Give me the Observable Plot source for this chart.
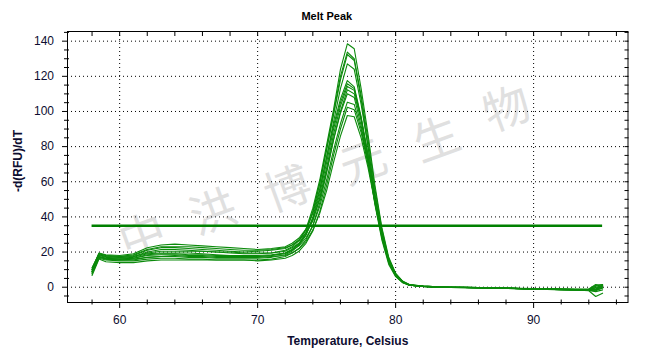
<!DOCTYPE html>
<html><head><meta charset="utf-8">
<script src="https://cdn.jsdelivr.net/npm/d3@7"></script>
<script src="https://cdn.jsdelivr.net/npm/@observablehq/plot@0.6"></script>
<style>body{margin:0;background:#fff} #chart svg{display:block}</style>
</head><body><div id="chart"></div>
<script>
// ---- data ----
const title = "Melt Peak";
const xLabel = "Temperature, Celsius";
const yLabel = "-d(RFU)/dT";

const temps = [58,58.5,59,60,61,62,63,64,65,66,67,68,69,70,71,
  72,72.5,73,73.5,74,74.5,75,75.5,76,76.5,77,77.5,78,78.5,79,79.5,80,80.5,81,
  82,83,84,85,86,87,88,89,90,91,92,93,94,94.5,95];

const c1  = [9,18.5,17.5,17,17.5,20,21.5,21.5,21,20.5,20,19.5,19,19,19.5,
  21,23,26.5,33,45,61,81,101,124,138.5,135.7,113,87,58,34,17,8,3.5,1.5,
  0.6,0.2,0,-0.1,-0.2,-0.4,-0.5,-0.7,-0.9,-1.0,-1.2,-1.3,-1.5,-1.5,0.5];
const c2  = [10,17.5,16.5,16,16.5,18,18.5,18.5,18,18,17.5,17.5,17.5,17.5,18,
  19.5,21.5,25,31,43,59,79,99,120,133.8,130,109,84,56,33,16,7.5,3.2,1.3,
  0.5,0.1,-0.1,-0.2,-0.3,-0.4,-0.6,-0.8,-1.0,-1.1,-1.3,-1.4,-1.6,-1.0,1.0];
const c3  = [11,19,18,17.5,18,21,22.5,22.5,22,21.5,21,20.5,20,20.5,21,
  22,24,27,32.5,43,59,78,98,118,132.4,129,107,80,52,30,14,6.5,2.8,1.1,
  0.4,0,-0.2,-0.3,-0.4,-0.5,-0.7,-0.9,-1.1,-1.2,-1.4,-1.6,-2.0,-5.3,-3.4];
const c4  = [8,17,16,15.5,15.5,17,17.5,17.5,17,17,16.5,16.5,16.5,16.5,17,
  18.5,20.5,24,29.5,40,55,74,94,113,127.1,124,104,80,53,31,15.5,7.5,3.2,1.3,
  0.5,0.1,0,-0.1,-0.2,-0.3,-0.5,-0.7,-0.8,-1.0,-1.1,-1.2,-1.3,0.5,1.5];
const c5  = [10,19.5,18.5,18,19,22.5,24,24.5,24,23.5,23,22.5,22,21.5,22,
  23,25,28,33,42,56,74,92,107,117.6,114,97,75,51,30,15,7,3,1.2,
  0.4,0,-0.2,-0.3,-0.4,-0.5,-0.7,-0.9,-1.1,-1.3,-1.5,-1.7,-1.9,-2.0,-0.5];
const c6  = [9,18,17,16.5,17,19,19.5,19.5,19.5,19,18.5,18,18,18,18.5,
  19.5,21.5,24.5,30,39,53,71,90,105,115.8,113,96,72,47,27,13,6,2.6,1.1,
  0.5,0.1,-0.1,-0.2,-0.3,-0.4,-0.6,-0.8,-0.9,-1.1,-1.2,-1.4,-1.5,-0.5,0.8];
const c7  = [10,18.5,17.5,17,17.5,19.5,20.5,20.5,20.5,20.5,20,20,19.5,19.5,19.5,
  20.5,22.5,25,30,38,51,68,87,103,114.2,112,96,75,51,30,15,7,3,1.2,
  0.5,0.2,0,-0.1,-0.2,-0.3,-0.5,-0.7,-0.9,-1.0,-1.1,-1.3,-1.2,1.0,1.5];
const c8  = [7.5,16.5,15.5,15,15,16,16.5,16.5,16,16,15.5,15.5,15.5,15.5,16,
  17.5,19.5,22,27,35,48,65,84,100,112.3,110,95,75,52,31,16,7.5,3.3,1.4,
  0.6,0.2,0,-0.2,-0.3,-0.4,-0.6,-0.8,-1.0,-1.2,-1.4,-1.5,-1.8,-1.5,-0.5];
const c9  = [11,19,18,17.5,18.5,21.5,23,23,23,22.5,22,21.5,21,21,21.5,
  22.5,24,26.5,31,38,50,66,84,99,110.1,108,92,71,48,28,14,6.5,2.7,1.1,
  0.4,0.1,-0.1,-0.2,-0.3,-0.4,-0.6,-0.7,-0.9,-1.0,-1.2,-1.3,-1.4,0,1.0];
const c10 = [9,17.5,16.5,16,16.5,18.5,19,19,18.5,18.5,18,18,17.5,17.5,18,
  19,21,23.5,28,35,46,61,78,93,105.3,104,90,71,49,29,14.5,6.8,2.9,1.2,
  0.5,0.1,-0.1,-0.2,-0.4,-0.5,-0.7,-0.9,-1.1,-1.2,-1.4,-1.6,-1.9,-2.5,-1.5];
const c11 = [6.7,16,14.5,14,14,15,15.5,15.5,15.5,15.5,15.5,15.5,15.5,15,15.5,
  16.5,18,20.5,25,32,43,58,75,90,102.4,101,88,70,49,30,15.5,7.2,3.1,1.3,
  0.6,0.2,0,-0.1,-0.3,-0.4,-0.6,-0.8,-1.0,-1.1,-1.3,-1.4,-1.6,-1.0,0];
const c12 = [8.5,17,16,15.5,16,17,17.5,18,17.5,17.5,17,17,17,17,17.5,
  18,19.5,22,26,32.5,42,55,71,86,97.7,97,85,68,48,29,15,7,3,1.3,
  0.6,0.2,0,-0.1,-0.2,-0.3,-0.5,-0.6,-0.8,-0.9,-1.0,-1.1,-1.0,1.5,1.0];

const threshold = 35;
const xTicks = [60,70,80,90];
const xMinorTicks = [58,62,64,66,68,72,74,76,78,82,84,86,88,92,94,96];
const yTicks = [0,20,40,60,80,100,120,140];
const yMinorTicks = [-5,5,10,15,25,30,35,45,50,55,65,70,75,85,90,95,105,110,115,125,130,135,145];

const watermarkChars = ["中","洪","博","元","生","物"];
const watermarkT = [61.7,66.8,72.2,77.7,83.0,88.1];
const watermarkV = [28.3,41.9,55.0,70.4,83.5,100.6];

// ---- build tables ----
const series = [c1,c2,c3,c4,c5,c6,c7,c8,c9,c10,c11,c12];
const curves = series.flatMap((s, k) => s.map((v, j) => ({t: temps[j], v, id: k})));
const thresholdRow = [{y: threshold, x1: temps[0], x2: temps[temps.length - 1]}];
const watermark = watermarkChars.map((c, i) => ({c, t: watermarkT[i], v: watermarkV[i]}));
const allXTicks = [...xTicks, ...xMinorTicks];
const allYTicks = [...yTicks, ...yMinorTicks];

const tickColor = "#000";
const labelColor = "#0d0d30";

const chart = Plot.plot({
  width: 650, height: 357,
  marginLeft: 67, marginRight: 22.5, marginTop: 31, marginBottom: 55,
  x: {domain: [56.22, 96.84]},
  y: {domain: [-8.7, 145.5]},
  style: {fontFamily: "Arial, 'Liberation Sans', sans-serif", fontSize: "12px", color: labelColor, background: "#fff"},
  marks: [
    Plot.text(watermark, {x: "t", y: "v", text: "c", rotate: -20, fontSize: 46, fill: "#e0e0e0",
      fontFamily: "'Noto Sans CJK SC', sans-serif"}),
    Plot.gridX(xTicks, {stroke: "#000", strokeOpacity: 1, strokeDasharray: "1,3"}),
    Plot.gridY(yTicks, {stroke: "#000", strokeOpacity: 1, strokeDasharray: "1,3"}),
    Plot.line(curves, {x: "t", y: "v", z: "id", stroke: "#0b8a0b", strokeWidth: 1.1}),
    Plot.ruleY(thresholdRow, {y: "y", x1: "x1", x2: "x2", stroke: "#008000", strokeWidth: 2.5}),
    Plot.frame({stroke: "#000"}),
    Plot.axisX(xTicks, {anchor: "bottom", tickSize: 6, tickPadding: 7, label: null, stroke: tickColor, fill: labelColor}),
    Plot.axisX(xMinorTicks, {anchor: "bottom", tickSize: 5, dy: -2.5, text: null, label: null, stroke: tickColor}),
    Plot.axisX(allXTicks, {anchor: "top", tickSize: 4, dy: 4, text: null, label: null, stroke: tickColor}),
    Plot.axisY(yTicks, {anchor: "left", tickSize: 5, tickPadding: 8.5, label: null, stroke: tickColor, fill: labelColor}),
    Plot.axisY(yMinorTicks, {anchor: "left", tickSize: 5, dx: 2, text: null, label: null, stroke: tickColor}),
    Plot.axisY(allYTicks, {anchor: "right", tickSize: 4, dx: -4, text: null, label: null, stroke: tickColor}),
    Plot.text([title], {frameAnchor: "top", dx: -21, dy: -15, textAnchor: "middle", lineAnchor: "middle",
      fontWeight: "bold", fontSize: 11, fill: "#000"}),
    Plot.text([xLabel], {frameAnchor: "bottom", dy: 39, textAnchor: "middle", lineAnchor: "middle",
      fontWeight: "bold", fontSize: 12, fill: labelColor}),
    Plot.text([yLabel], {frameAnchor: "left", dx: -49.5, dy: -6, rotate: -90, textAnchor: "middle", lineAnchor: "middle",
      fontWeight: "bold", fontSize: 12, fill: labelColor})
  ]
});
document.getElementById("chart").appendChild(chart);
</script>
</body></html>
